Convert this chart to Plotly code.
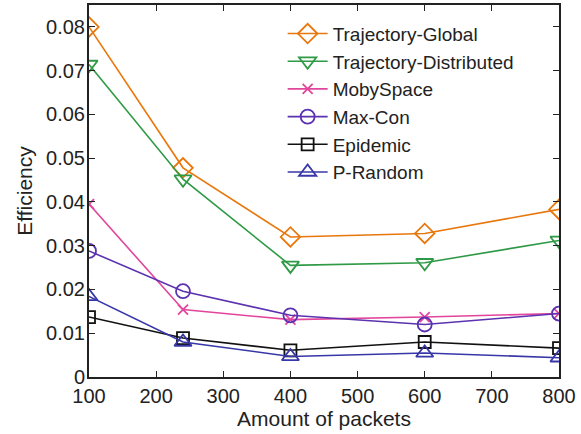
import plotly.graph_objects as go

packets = [100, 240, 400, 600, 800]
traj_global = [0.0800, 0.0478, 0.0320, 0.0328, 0.0383]
traj_dist = [0.0714, 0.0452, 0.0255, 0.0261, 0.0312]
mobyspace = [0.0395, 0.0154, 0.0131, 0.0137, 0.0145]
maxcon = [0.0288, 0.0196, 0.0141, 0.0120, 0.0145]
epidemic = [0.0137, 0.0089, 0.0061, 0.0080, 0.0066]
prandom = [0.0184, 0.0080, 0.0047, 0.0055, 0.0044]

series = [
    ("Trajectory-Global", traj_global, "#e8770c", "diamond-open", 15),
    ("Trajectory-Distributed", traj_dist, "#2f9a45", "triangle-down-open", 15),
    ("MobySpace", mobyspace, "#e2469c", "x-thin-open", 10),
    ("Max-Con", maxcon, "#5b32b0", "circle-open", 14),
    ("Epidemic", epidemic, "#111111", "square-open", 12),
    ("P-Random", prandom, "#3737a8", "triangle-up-open", 15),
]

fig = go.Figure()
for name, vals, color, sym, size in series:
    fig.add_trace(go.Scatter(
        x=packets, y=vals, name=name, mode="lines+markers",
        line=dict(color=color, width=1.6),
        marker=dict(symbol=sym, size=size, color=color,
                    line=dict(color=color, width=1.8)),
    ))

fig.update_layout(
    width=581, height=434,
    margin=dict(l=89, r=22, t=5, b=57),
    plot_bgcolor="white", paper_bgcolor="white",
    font=dict(family="Liberation Sans, Arial, sans-serif", size=20, color="#222"),
    showlegend=True,
    legend=dict(x=0.412, y=0.974, xanchor="left", yanchor="top",
                bgcolor="rgba(0,0,0,0)", font=dict(size=19),
                tracegroupgap=0, itemwidth=40),
)
fig.update_xaxes(
    range=[100, 800], tickvals=[100, 200, 300, 400, 500, 600, 700, 800],
    showgrid=False, zeroline=False, showline=True, linecolor="#222", linewidth=2,
    mirror="ticks", ticks="inside", ticklen=6, tickcolor="#222", tickwidth=1.2,
    automargin=False, tickfont=dict(size=20), ticklabelstandoff=0,
    title=dict(text="Amount of packets", standoff=0, font=dict(size=21)),
)
fig.update_yaxes(
    range=[0, 0.085], tickvals=[0, 0.01, 0.02, 0.03, 0.04, 0.05, 0.06, 0.07, 0.08],
    ticktext=["0", "0.01", "0.02", "0.03", "0.04", "0.05", "0.06", "0.07", "0.08"],
    showgrid=False, zeroline=False, showline=True, linecolor="#222", linewidth=2,
    mirror="ticks", ticks="inside", ticklen=6, tickcolor="#222", tickwidth=1.2,
    automargin=False, tickfont=dict(size=20), ticklabelstandoff=-2,
    title=dict(text="Efficiency", standoff=8, font=dict(size=21)),
)
fig.write_html("out.html", config={"displayModeBar": False},
               post_script="document.body.style.margin='0';")
